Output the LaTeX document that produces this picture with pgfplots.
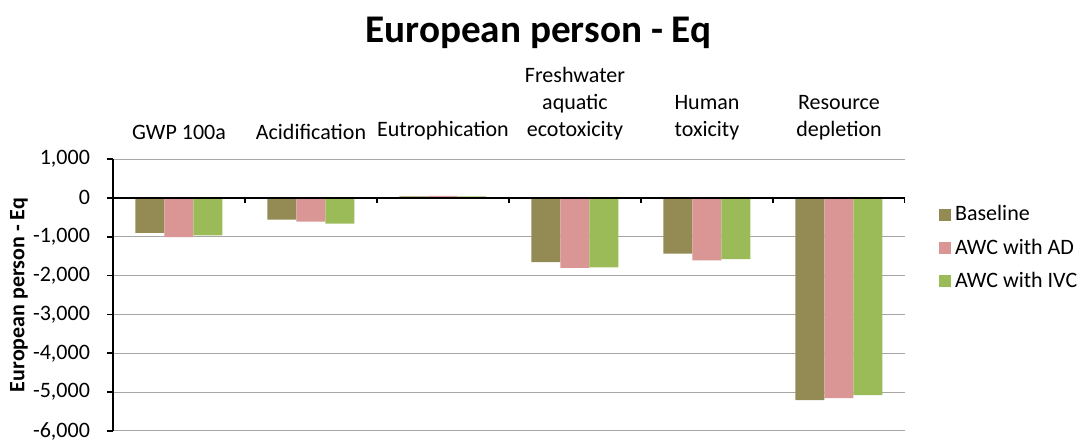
\documentclass[border=0pt]{standalone}
\usepackage{pgfplots}
\pgfplotsset{compat=1.18}
\usepackage{fontspec}
\setmainfont{Carlito}
\definecolor{cBase}{HTML}{948A54}
\definecolor{cAD}{HTML}{D99694}
\definecolor{cIVC}{HTML}{9BBB59}
\begin{document}
\begin{tikzpicture}
\path[use as bounding box] (-56.5pt,-6.5pt) rectangle (485pt,215.5pt);
\begin{axis}[
  at={(0,0)}, anchor=south west,
  scale only axis, width=396pt, height=136pt,
  xmin=-0.5, xmax=5.5, ymin=-6000, ymax=1000,
  ytick={-6000,-5000,...,1000},
  /pgf/number format/.cd, 1000 sep={,}, assume math mode=true, /pgfplots/.cd,
  yticklabel style={font=\fontsize{11}{13}\selectfont, xshift=-5pt},
  ymajorgrids, grid style={draw=black!35, line width=0.5pt},
  axis y line=left, axis line style={-, line width=1.1pt},
  axis x line=top, x axis line style={draw=none},
  xtick={0,1,2,3,4,5},
  xticklabels={GWP 100a, Acidification, Eutrophication, {Freshwater\\aquatic\\ecotoxicity}, {Human\\toxicity}, {Resource\\depletion}},
  xticklabel style={align=center, font=\fontsize{11}{13.5}\selectfont, anchor=south, yshift=3pt},
  major x tick style={draw=none},
  major y tick style={black, line width=0.8pt},
  tick align=outside, major tick length=3pt,
  ybar=0pt, bar width=14.5pt,
  legend style={at={(1.035,0.86)}, anchor=north west, draw=none, fill=none,
    font=\fontsize{11}{13}\selectfont, row sep=3.5pt},
  legend cell align=left,
  legend image code/.code={\fill[#1,draw=none] (0pt,-3pt) rectangle (6pt,3pt);},
]
\addplot[fill=cBase, draw=none] coordinates {(0,-900) (1,-557) (2,40) (3,-1655) (4,-1432) (5,-5206)};
\addplot[fill=cAD, draw=none] coordinates {(0,-1010) (1,-609) (2,50) (3,-1800) (4,-1612) (5,-5154)};
\addplot[fill=cIVC, draw=none] coordinates {(0,-968) (1,-660) (2,40) (3,-1792) (4,-1578) (5,-5077)};
\legend{Baseline, AWC with AD, AWC with IVC}
\draw[black, line width=1.1pt] (axis cs:-0.5,0) -- (axis cs:5.5,0);
\draw[black, line width=0.8pt] (axis cs:0.5,0) -- (axis cs:0.5,-130);
\draw[black, line width=0.8pt] (axis cs:1.5,0) -- (axis cs:1.5,-130);
\draw[black, line width=0.8pt] (axis cs:2.5,0) -- (axis cs:2.5,-130);
\draw[black, line width=0.8pt] (axis cs:3.5,0) -- (axis cs:3.5,-130);
\draw[black, line width=0.8pt] (axis cs:4.5,0) -- (axis cs:4.5,-130);
\draw[black, line width=0.8pt] (axis cs:5.5,0) -- (axis cs:5.5,-130);
\end{axis}
\node[font=\fontsize{19.6}{23}\selectfont\bfseries] at (212.75pt,199pt) {European person - Eq};
\node[rotate=90, font=\fontsize{11}{13}\selectfont\bfseries] at (-47pt,68pt) {European person - Eq};
\end{tikzpicture}
\end{document}
